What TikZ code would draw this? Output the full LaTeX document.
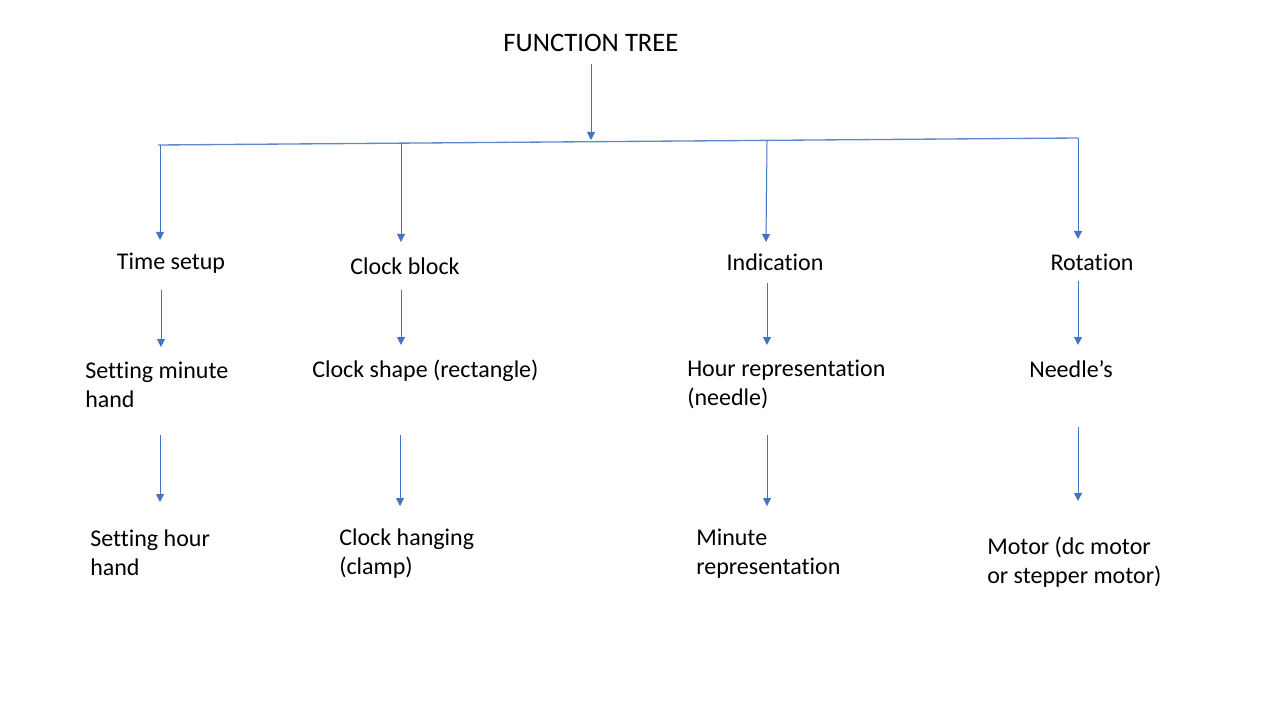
\documentclass[tikz,border=0pt]{standalone}
\usepackage{fontspec}
\setmainfont[Ligatures=NoCommon]{Carlito}
\usetikzlibrary{arrows.meta}
\definecolor{arrowblue}{HTML}{4472C4}
\begin{document}
\begin{tikzpicture}[x=0.75pt,y=-0.75pt,
  lbl/.style={inner sep=0pt, font=\fontsize{18}{21.75}\selectfont, align=left},
  arr/.style={draw=arrowblue, line width=0.75pt, -{Triangle[length=6pt,width=6pt]}},
  bar/.style={draw=arrowblue!85, line width=1pt}]
\useasboundingbox (0,0) rectangle (1280,720);
% title
\node[lbl,font=\fontsize{20}{24}\selectfont] (title) at (591,43) {FUNCTION TREE};
% bar
\coordinate (bl) at (158,145);
\coordinate (br) at (1078,138);
\draw[bar] (bl) -- (br);
\coordinate (t1) at (591,64);
\coordinate (t2) at (591,140);
\draw[arr] (t1) -- (t2);
% level 1 labels
\node[lbl] (l1a) at (171,263) {Time setup};
\node[lbl] (l1b) at (405,266) {Clock block};
\node[lbl] (l1c) at (775,262) {Indication};
\node[lbl] (l1d) at (1092,262) {Rotation};
% level 2 labels
\node[lbl,anchor=west] (l2a) at (85,384.5) {Setting minute\\hand};
\node[lbl,anchor=west] (l2b) at (312,371) {Clock shape (rectangle)};
\node[lbl,anchor=west] (l2c) at (687,384.5) {Hour representation\\(needle)};
\node[lbl,anchor=west] (l2d) at (1029,369) {Needle’s};
% level 3 labels
\node[lbl,anchor=west] (l3a) at (90,552.5) {Setting hour\\hand};
\node[lbl,anchor=west] (l3b) at (339,553.5) {Clock hanging\\(clamp)};
\node[lbl,anchor=west] (l3c) at (696,554) {Minute\\representation};
\node[lbl,anchor=west] (l3d) at (987,562) {Motor (dc motor\\or stepper motor)};
% bar to level 1
\coordinate (a1s) at (160,145);   \coordinate (a1e) at (160,240);
\coordinate (b1s) at (401,143);   \coordinate (b1e) at (401,242);
\coordinate (c1s) at (767,140.5); \coordinate (c1e) at (766,242);
\coordinate (d1s) at (1078,138);  \coordinate (d1e) at (1078,239);
\draw[arr] (a1s) -- (a1e);
\draw[arr] (b1s) -- (b1e);
\draw[arr] (c1s) -- (c1e);
\draw[arr] (d1s) -- (d1e);
% level 1 to level 2
\coordinate (a2s) at (161,290); \coordinate (a2e) at (161,347);
\coordinate (b2s) at (401,290); \coordinate (b2e) at (401,345);
\coordinate (c2s) at (767,283); \coordinate (c2e) at (767,345);
\coordinate (d2s) at (1078,281); \coordinate (d2e) at (1078,345);
\draw[arr] (a2s) -- (a2e);
\draw[arr] (b2s) -- (b2e);
\draw[arr] (c2s) -- (c2e);
\draw[arr] (d2s) -- (d2e);
% level 2 to level 3
\coordinate (a3s) at (160,435); \coordinate (a3e) at (160,502);
\coordinate (b3s) at (400,435); \coordinate (b3e) at (400,506);
\coordinate (c3s) at (767,435); \coordinate (c3e) at (767,506);
\coordinate (d3s) at (1078,427); \coordinate (d3e) at (1078,501);
\draw[arr] (a3s) -- (a3e);
\draw[arr] (b3s) -- (b3e);
\draw[arr] (c3s) -- (c3e);
\draw[arr] (d3s) -- (d3e);
\end{tikzpicture}
\end{document}
